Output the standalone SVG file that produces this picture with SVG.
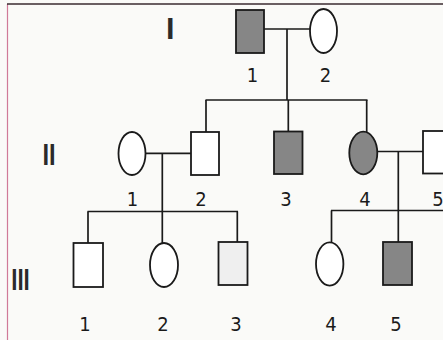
<svg xmlns="http://www.w3.org/2000/svg" width="443" height="340" viewBox="0 0 443 340">
<style>
.bg{fill:#fafaf8}
.m{fill:#ffffff;stroke:#1a1a1a;stroke-width:1.8}
.a{fill:#868686}
.c{fill:#efefef}
.f{fill:#ffffff}
.ln{stroke:#1a1a1a;stroke-width:1.7;fill:none}
.lb{font-family:"Liberation Sans Narrow","DejaVu Sans Condensed","Liberation Sans",sans-serif;font-size:20px;fill:#1a1a1a;text-anchor:middle}
.gen{font-family:"DejaVu Sans Condensed","DejaVu Sans",sans-serif;font-weight:bold;font-size:29px;fill:#2a2a2a}
</style>
<rect class="bg" x="0" y="0" width="443" height="340"/>
<line x1="7.5" y1="4" x2="7.5" y2="340" stroke="#d07a98" stroke-width="1.2"/>
<line x1="7" y1="4" x2="443" y2="4" stroke="#3a2a30" stroke-width="1.6"/>

<g id="generation-labels">
<text class="gen" x="166.1" y="39.3" textLength="8.5" lengthAdjust="spacingAndGlyphs">I</text>
<text class="gen" x="42.4" y="165" textLength="13.2" lengthAdjust="spacingAndGlyphs">II</text>
<text class="gen" x="11.2" y="290" textLength="18.6" lengthAdjust="spacingAndGlyphs">III</text>
</g>

<g id="connectors">
<line class="ln" x1="264" y1="29" x2="310" y2="29"/>
<line class="ln" x1="287" y1="29" x2="287" y2="100"/>
<line class="ln" x1="205.5" y1="100" x2="367.5" y2="100"/>
<line class="ln" x1="206" y1="100" x2="206" y2="132"/>
<line class="ln" x1="288.3" y1="100" x2="288.3" y2="131.5"/>
<line class="ln" x1="366.7" y1="100" x2="366.7" y2="132.5"/>
<line class="ln" x1="145.5" y1="153.3" x2="191" y2="153.3"/>
<line class="ln" x1="162.3" y1="153.3" x2="162.3" y2="243"/>
<line class="ln" x1="87.5" y1="211.5" x2="238" y2="211.5"/>
<line class="ln" x1="88" y1="211.5" x2="88" y2="243"/>
<line class="ln" x1="237.3" y1="211.5" x2="237.3" y2="242"/>
<line class="ln" x1="377" y1="151.5" x2="423" y2="151.5"/>
<line class="ln" x1="398.3" y1="151.5" x2="398.3" y2="242"/>
<line class="ln" x1="331" y1="210.5" x2="443" y2="210.5"/>
<line class="ln" x1="331.5" y1="210.5" x2="331.5" y2="242.5"/>
</g>

<g id="I-1"><rect class="m a" x="236" y="10" width="28" height="43"/><text class="lb" x="252.5" y="81.7">1</text></g>
<g id="I-2"><ellipse class="m f" cx="323.5" cy="31" rx="13.5" ry="22"/><text class="lb" x="325.5" y="81.7">2</text></g>

<g id="II-1"><ellipse class="m f" cx="132" cy="153.5" rx="13.5" ry="21.5"/><text class="lb" x="132.5" y="205.5">1</text></g>
<g id="II-2"><rect class="m f" x="191" y="132" width="28" height="43"/><text class="lb" x="201" y="205.5">2</text></g>
<g id="II-3"><rect class="m a" x="274" y="131.5" width="28.5" height="42.5"/><text class="lb" x="286" y="205.5">3</text></g>
<g id="II-4"><ellipse class="m a" cx="363.3" cy="153" rx="14" ry="21.3"/><text class="lb" x="365" y="205.5">4</text></g>
<g id="II-5"><rect class="m f" x="423" y="131" width="28" height="42.5"/><text class="lb" x="438" y="205.5">5</text></g>

<g id="III-1"><rect class="m f" x="73.5" y="243" width="29.5" height="44"/><text class="lb" x="85" y="331">1</text></g>
<g id="III-2"><ellipse class="m f" cx="164" cy="265" rx="14" ry="22"/><text class="lb" x="163" y="331">2</text></g>
<g id="III-3"><rect class="m c" x="218.5" y="242" width="29" height="43"/><text class="lb" x="236" y="331">3</text></g>
<g id="III-4"><ellipse class="m f" cx="329.7" cy="264" rx="13.7" ry="21.7"/><text class="lb" x="331" y="331">4</text></g>
<g id="III-5"><rect class="m a" x="383" y="242" width="29" height="43"/><text class="lb" x="396" y="331">5</text></g>
</svg>
